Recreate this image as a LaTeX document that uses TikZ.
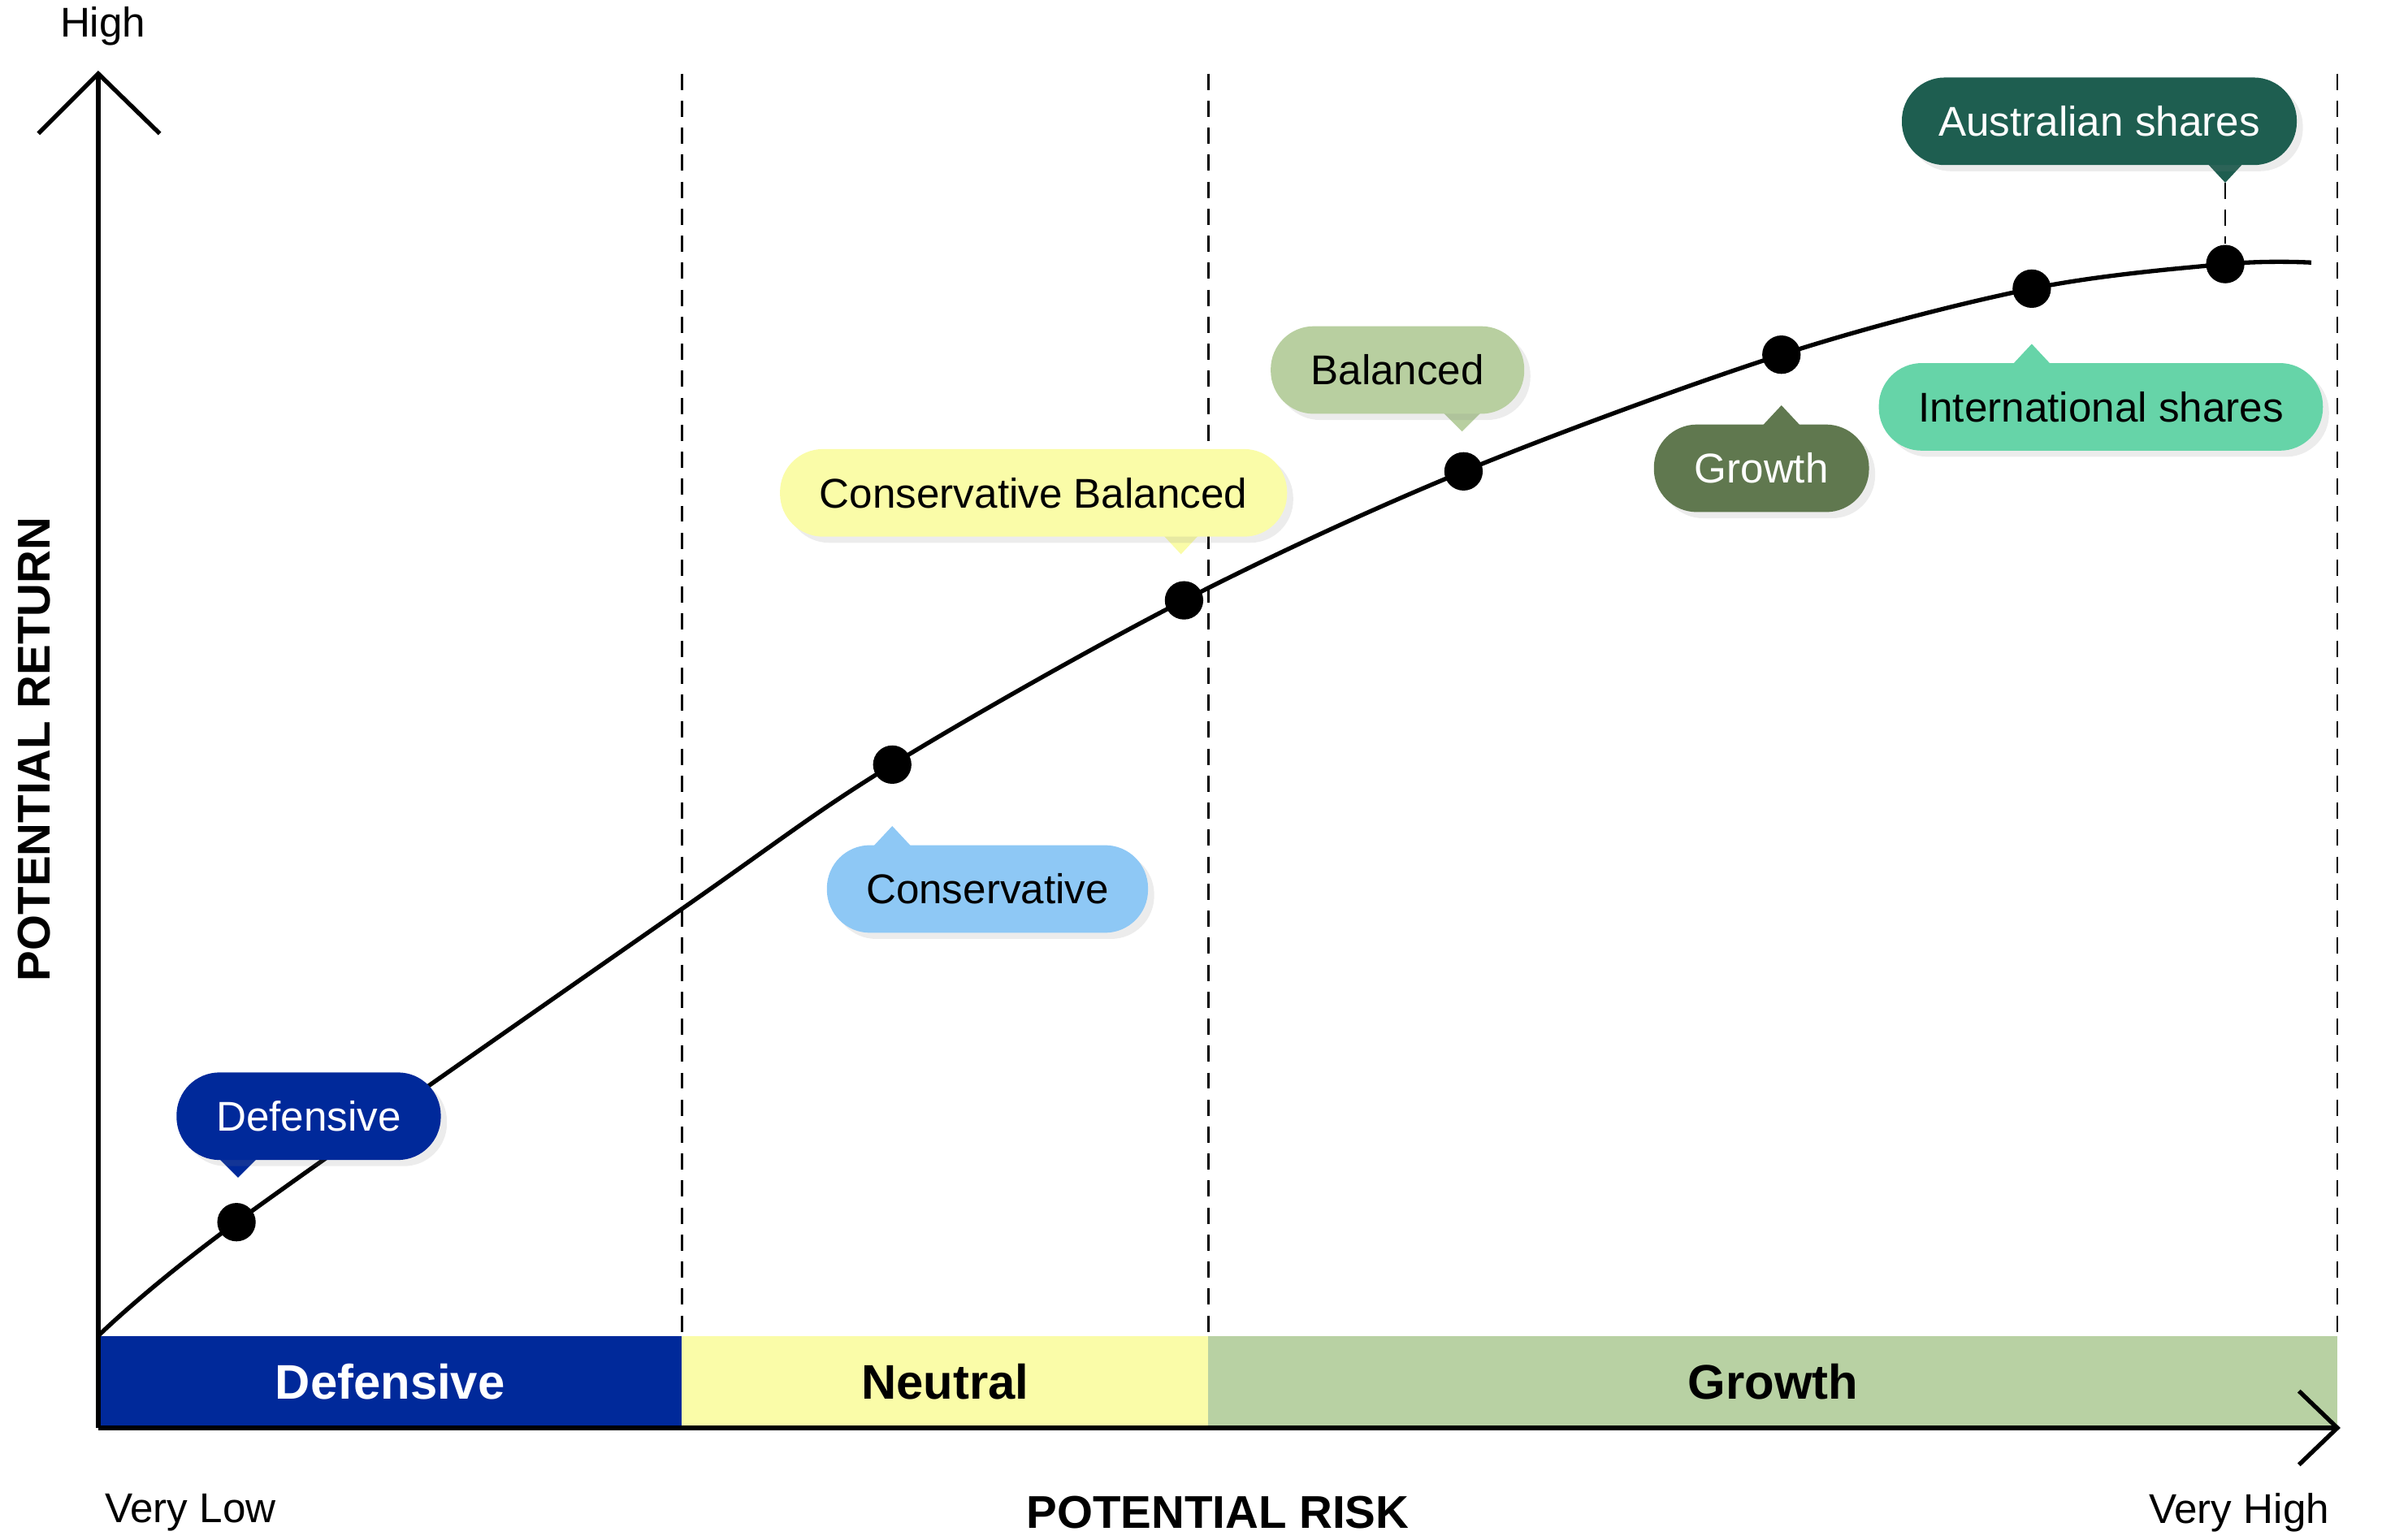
\documentclass[tikz,border=0pt]{standalone}
\usepackage{fontspec}
\setmainfont{Liberation Sans}
\usetikzlibrary{positioning,calc,shadows}
\definecolor{defblue}{HTML}{00299A}
\definecolor{neutyel}{HTML}{FAFCA8}
\definecolor{growgrn}{HTML}{B8D1A3}
\definecolor{consblue}{HTML}{8EC8F5}
\definecolor{balgrn}{HTML}{B8CFA0}
\definecolor{grogrn}{HTML}{60784F}
\definecolor{intgrn}{HTML}{66D4A8}
\definecolor{ausgrn}{HTML}{1E5E50}
\begin{document}
\begin{tikzpicture}
	% Styles
	[x=0.01cm,y=-0.01cm,
	dot/.style={circle,fill=black,inner sep=0pt,minimum size=2.5mm},
	bubble/.style={rounded corners=2.8mm,inner sep=0pt,minimum height=5.7mm,font=\fontsize{7.7}{9}\selectfont,drop shadow={opacity=0.15,shadow xshift=0.4mm,shadow yshift=-0.4mm}},
	band/.style={inner sep=0pt,minimum height=6mm,font=\fontsize{9}{11}\selectfont\bfseries},
	divider/.style={densely dashed,thin},
	]
	\useasboundingbox (0,0) rectangle (1568,1003);

	% Bands
	\node (bdef) [band,fill=defblue,text=white,minimum width=3.8cm] at (254,900) {Defensive};
	\node (bneu) [band,fill=neutyel,minimum width=3.43cm] at (615.5,900) {Neutral};
	\node (bgro) [band,fill=growgrn,minimum width=7.35cm] at (1154.5,900) {Growth};

	% Dividers
	\foreach \x in {444,787,1522}
		\draw[divider] (\x,48) -- (\x,870);

	% Axis
	\coordinate (o) at (64,930);
	\coordinate (ytop) at (64,48);
	\coordinate (xend) at (1522,930);
	\draw[thick] (o) -- (ytop);
	\draw[thick] (o) -- (xend);
	\draw[thick] (25,87) -- (ytop) -- (104,87);
	\draw[thick] (1497,906) -- (xend) -- (1497,954);

	% Curve
	\draw[thick] plot[smooth,tension=0.55] coordinates {(64,870) (154,796) (444,592) (581,498) (771,391) (953,307) (1160,231) (1323,188) (1449,172) (1505,171)};
	\node (p1) [dot] at (154,796) {};
	\node (p2) [dot] at (581,498) {};
	\node (p3) [dot] at (771,391) {};
	\node (p4) [dot] at (953,307) {};
	\node (p5) [dot] at (1160,231) {};
	\node (p6) [dot] at (1323,188) {};
	\node (p7) [dot] at (1449,172) {};

	% Bubbles
	\fill[defblue] (143,755) -- (155,767) -- (167,755) -- cycle;
	\node (cdef) [bubble,fill=defblue,text=white,minimum width=1.72cm] at (201,727) {Defensive};
	\fill[consblue] (567,553) -- (581,538) -- (595,553) -- cycle;
	\node (ccon) [bubble,fill=consblue,minimum width=2.09cm] at (643,579) {Conservative};
	\fill[neutyel] (756,347) -- (769,361) -- (782,347) -- cycle;
	\node (ccb) [bubble,fill=neutyel,minimum width=3.3cm] at (673,321) {Conservative Balanced};
	\fill[balgrn] (939,268) -- (952,281) -- (965,268) -- cycle;
	\node (cbal) [bubble,fill=balgrn,minimum width=1.65cm] at (910,241) {Balanced};
	\fill[grogrn] (1146,279) -- (1160,264) -- (1174,279) -- cycle;
	\node (cgro) [bubble,fill=grogrn,text=white,minimum width=1.4cm] at (1147,305) {Growth};
	\fill[intgrn] (1309,239) -- (1323,224) -- (1337,239) -- cycle;
	\node (cint) [bubble,fill=intgrn,minimum width=2.89cm] at (1368,265) {International shares};
	\fill[ausgrn] (1436,105) -- (1449,119) -- (1462,105) -- cycle;
	\node (caus) [bubble,fill=ausgrn,text=white,minimum width=2.57cm] at (1367,79) {Australian shares};
	\coordinate (ausTip) at (1449,119);
	\draw[divider] (ausTip) -- (p7);

	% Text
	\node (thigh) at (67,17) {\fontsize{7.7}{9}\selectfont High};
	\node (tlow) at (124,985) {\fontsize{7.7}{9}\selectfont Very Low};
	\node (tvhigh) at (1458,985) {\fontsize{7.7}{9}\selectfont Very High};
	\node (trisk) at (793,985) {\fontsize{8.5}{10}\selectfont\bfseries POTENTIAL RISK};
	\node (tret) [rotate=90] at (22,488) {\fontsize{8.5}{10}\selectfont\bfseries POTENTIAL RETURN};
\end{tikzpicture}
\end{document}
